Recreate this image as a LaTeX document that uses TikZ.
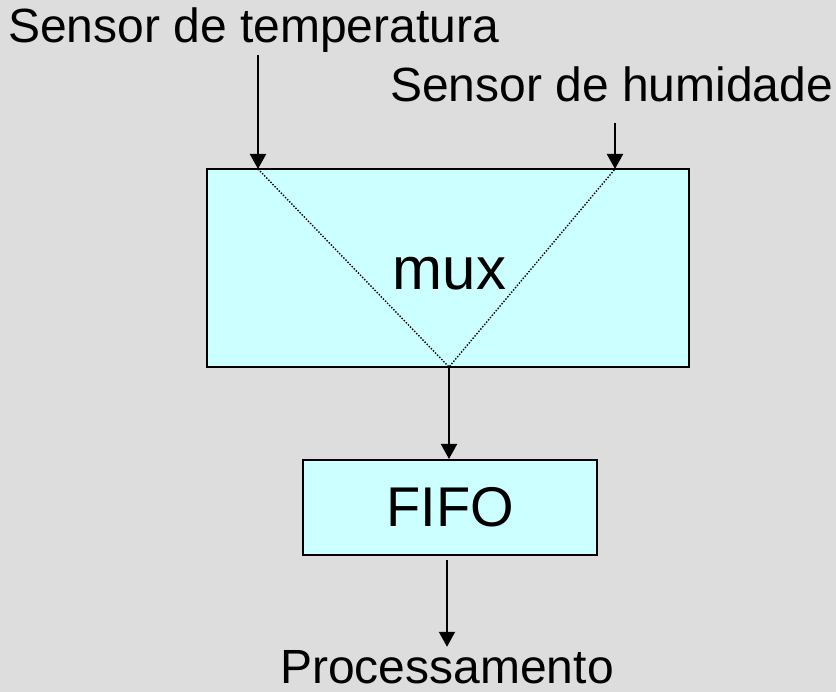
\documentclass[tikz,border=0pt]{standalone}
\usepackage{fontspec}
\setmainfont{Liberation Sans}
\usetikzlibrary{positioning,arrows.meta,calc}
\definecolor{bggray}{HTML}{DDDDDD}
\definecolor{boxcyan}{HTML}{CCFFFF}

\begin{document}
\begin{tikzpicture}[
    x=1pt, y=-1pt,
    block/.style={draw, fill=boxcyan, line width=2pt, inner sep=0pt},
    sensortext/.style={inner sep=0pt, font=\fontsize{48}{56}\selectfont},
    edge/.style={-{Triangle[width=16pt,length=15pt]}, line width=2pt},
    route/.style={line width=1.4pt, dash pattern=on 1.4pt off 1.6pt}
]
\fill[bggray] (0,0) rectangle (836,692);

\node[block, minimum width=482pt, minimum height=198pt] (mux) at (448,268) {};
\node[anchor=base, inner sep=0pt, font=\fontsize{60}{70}\selectfont] (muxtext) at (449.5,290) {mux};
\node[block, minimum width=294pt, minimum height=95pt, font=\fontsize{56}{64}\selectfont] (fifo) at (450,507.5) {FIFO};

\node[sensortext, anchor=base west] (temp) at (8,43) {Sensor de temperatura};
\node[sensortext, anchor=base west] (humid) at (390,102) {Sensor de humidade};
\node[sensortext, anchor=base] (proc) at (447,683) {Processamento};

\coordinate (tin) at (258,169);
\coordinate (hin) at (615,169);
\coordinate (mout) at (449,367);

\draw[route] (tin) -- (mout) -- (hin);
\draw[edge] ([yshift=-2pt]temp.south -| tin) -- (tin);
\draw[edge] ([yshift=-20pt]humid.south -| hin) -- (hin);
\draw[edge] (mout) -- (mout |- fifo.north);
\draw[edge] ([yshift=-4pt]fifo.south -| proc.north) -- ([yshift=3pt]proc.north);
\end{tikzpicture}
\end{document}
